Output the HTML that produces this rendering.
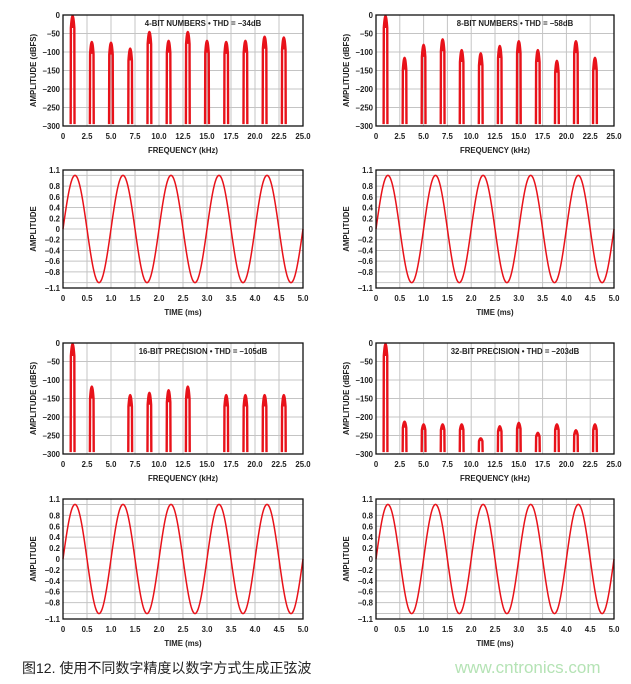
<!DOCTYPE html>
<html><head><meta charset="utf-8"><style>
html,body{margin:0;padding:0;background:#fff;width:631px;height:684px;overflow:hidden}
svg{display:block}
text{font-family:"Liberation Sans",Arial,sans-serif;font-weight:bold;fill:#222}
</style></head><body>
<svg id="s" width="631" height="684" viewBox="0 0 631 684" xmlns="http://www.w3.org/2000/svg">
<text x="22" y="673" style="font-weight:normal;font-size:14px;font-family:'Liberation Sans','Noto Sans CJK SC',sans-serif" fill="#111">图12. 使用不同数字精度以数字方式生成正弦波</text>
<text x="455" y="673" style="font-weight:normal;font-size:17px;fill:#b5e3b5">www.cntronics.com</text>
</svg>
<script>
var S=document.getElementById('s'),NS='http://www.w3.org/2000/svg';
function el(t,a,txt){var e=document.createElementNS(NS,t);for(var k in a)e.setAttribute(k,a[k]);if(txt!=null)e.textContent=txt;S.appendChild(e);return e;}
function spec(x0,y0,x1,y1,title,peaks){
  var W=x1-x0,H=y1-y0;
  function X(f){return x0+f/25*W}function Y(d){return y0-d/300*H}
  for(var f=2.5;f<25;f+=2.5)el('line',{x1:X(f),y1:y0,x2:X(f),y2:y1,stroke:'#c4c4c4','stroke-width':1});
  for(var d=-50;d>-300;d-=50)el('line',{x1:x0,y1:Y(d),x2:x1,y2:Y(d),stroke:'#c4c4c4','stroke-width':1});
  peaks.forEach(function(p){var f=p[0],d=p[1],w=0.2;
    var px=X(f),pb=Y(-295),pt=Y(d)+1,hw=w/25*W,L=pb-pt,e=pt+Math.min(0.2*L,12);
    el('path',{d:'M'+(px-hw)+','+pb+' L'+(px-hw*0.9)+','+e+' Q'+px+','+(2*pt-e)+' '+(px+hw*0.9)+','+e+' L'+(px+hw)+','+pb,fill:'none',stroke:'#e8121a','stroke-width':2.4});
    el('path',{d:'M'+(px-hw*0.8)+','+e+' Q'+px+','+(2*pt-e)+' '+(px+hw*0.8)+','+e+'Z',fill:'#e8121a'});
  });
  el('rect',{x:x0,y:y0,width:W,height:H,fill:'none',stroke:'#111','stroke-width':1.3});
  el('text',{x:(x0+x1)/2+20,y:y0+11,'text-anchor':'middle','font-size':'7.8px'},title);
  for(var d=0;d>=-300;d-=50)el('text',{x:x0-3,y:Y(d)+3,'text-anchor':'end','font-size':'7.8px'},d==0?'0':'\u2013'+(-d));
  for(var i=0;i<=10;i++){var f=i*2.5;el('text',{x:X(f),y:y1+13,'text-anchor':'middle','font-size':'7.8px'},i==0?'0':f.toFixed(1));}
  el('text',{x:(x0+x1)/2,y:y1+27,'text-anchor':'middle','font-size':'7.8px'},'FREQUENCY (kHz)');
  el('text',{x:0,y:0,'text-anchor':'middle','font-size':'7.8px',transform:'translate('+(x0-27)+','+((y0+y1)/2)+') rotate(-90)'},'AMPLITUDE (dBFS)');
}
function tim(x0,y0,x1,y1){
  var W=x1-x0,H=y1-y0;function X(t){return x0+t/5*W}function Y(v){return y0+(1.1-v)/2.2*H}
  for(var t=0.5;t<5;t+=0.5)el('line',{x1:X(t),y1:y0,x2:X(t),y2:y1,stroke:'#c4c4c4','stroke-width':1});
  [1,0.8,0.6,0.4,0.2,0,-0.2,-0.4,-0.6,-0.8,-1].forEach(function(v){el('line',{x1:x0,y1:Y(v),x2:x1,y2:Y(v),stroke:'#c4c4c4','stroke-width':1});});
  var d='';for(var i=0;i<=500;i++){var t=i/100;d+=(i?'L':'M')+X(t).toFixed(2)+','+Y(Math.sin(2*Math.PI*t)).toFixed(2);}
  el('path',{d:d,fill:'none',stroke:'#e8121a','stroke-width':1.5});
  el('rect',{x:x0,y:y0,width:W,height:H,fill:'none',stroke:'#111','stroke-width':1.3});
  [['1.1',1.1],['0.8',.8],['0.6',.6],['0.4',.4],['0.2',.2],['0',0],['\u20130.2',-.2],['\u20130.4',-.4],['\u20130.6',-.6],['\u20130.8',-.8],['\u20131.1',-1.1]].forEach(function(a){el('text',{x:x0-3,y:Y(a[1])+3,'text-anchor':'end','font-size':'7.8px'},a[0]);});
  for(var i=0;i<=10;i++){var t=i*0.5;el('text',{x:X(t),y:y1+13,'text-anchor':'middle','font-size':'7.8px'},i==0?'0':t.toFixed(1));}
  el('text',{x:(x0+x1)/2,y:y1+27,'text-anchor':'middle','font-size':'7.8px'},'TIME (ms)');
  el('text',{x:0,y:0,'text-anchor':'middle','font-size':'7.8px',transform:'translate('+(x0-27)+','+((y0+y1)/2)+') rotate(-90)'},'AMPLITUDE');
}
spec(63,15,303,126,'4-BIT NUMBERS \u2022 THD = \u201334dB',[[1,0],[3,-70],[5,-72],[7,-88],[9,-43],[11,-67],[13,-43],[15,-67],[17,-70],[19,-67],[21,-56],[23,-58]]);
spec(376,15,614,126,'8-BIT NUMBERS \u2022 THD = \u201358dB',[[1,0],[3,-113],[5,-78],[7,-63],[9,-92],[11,-101],[13,-81],[15,-68],[17,-92],[19,-121],[21,-68],[23,-113]]);
spec(63,343,303,454,'16-BIT PRECISION \u2022 THD = \u2013105dB',[[1,0],[3,-115],[7,-138],[9,-132],[11,-125],[13,-115],[17,-138],[19,-138],[21,-138],[23,-138]]);
spec(376,343,614,454,'32-BIT PRECISION \u2022 THD = \u2013203dB',[[1,0],[3,-210],[5,-217],[7,-217],[9,-217],[11,-255],[13,-222],[15,-213],[17,-240],[19,-217],[21,-233],[23,-217]]);
tim(63,170,303,288);
tim(376,170,614,288);
tim(63,499,303,619);
tim(376,499,614,619);
</script>
</body></html>
